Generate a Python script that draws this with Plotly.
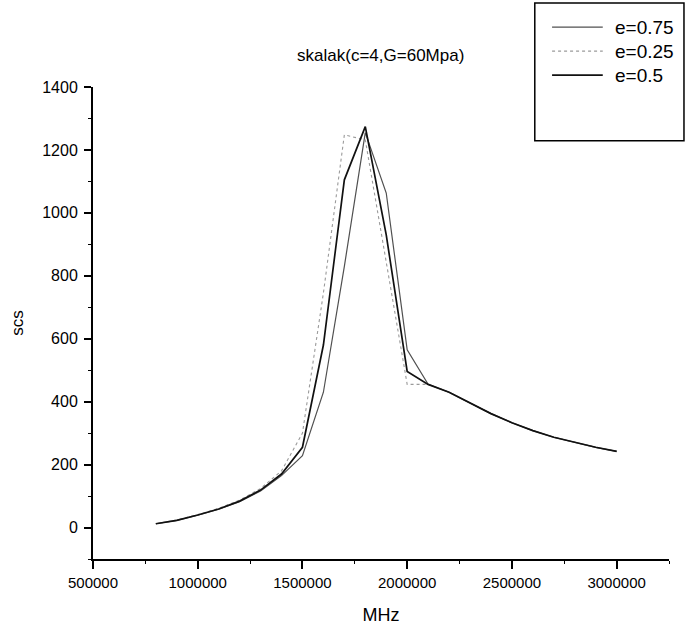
import plotly.graph_objects as go

# Frequency samples (x axis)
freq = [800000, 900000, 1000000, 1100000, 1200000, 1300000, 1400000, 1500000,
        1600000, 1700000, 1800000, 1900000, 2000000, 2100000, 2200000, 2300000,
        2400000, 2500000, 2600000, 2700000, 2800000, 2900000, 3000000]

# Scattering cross section for each eccentricity
scs_e075 = [12, 23, 39, 58, 82, 116, 165, 228, 430, 830, 1255, 1063, 565, 455,
            430, 396, 362, 333, 308, 287, 270, 255, 242]
scs_e025 = [12, 24, 41, 61, 87, 124, 180, 300, 745, 1248, 1232, 850, 455, 455,
            430, 396, 362, 333, 308, 287, 270, 255, 242]
scs_e05 = [12, 23, 40, 59, 84, 119, 170, 255, 580, 1105, 1274, 930, 496, 455,
           430, 396, 362, 333, 308, 287, 270, 255, 242]

series_names = ["e=0.75", "e=0.25", "e=0.5"]

x_ticks = [500000, 1000000, 1500000, 2000000, 2500000, 3000000]
y_ticks = [0, 200, 400, 600, 800, 1000, 1200, 1400]

line_styles = [
    dict(color="#505050", width=1.2),
    dict(color="#9a9a9a", width=1.1, dash="dot"),
    dict(color="#111111", width=1.7),
]

fig = go.Figure()
for name, ys, style in zip(series_names, [scs_e075, scs_e025, scs_e05], line_styles):
    fig.add_trace(go.Scatter(x=freq, y=ys, mode="lines", name=name,
                             line=style, showlegend=False))

font_family = "Liberation Sans, Arial, sans-serif"

# Legend box drawn in paper coordinates: frame, sample lines and labels
legend_rows = [1.127, 1.076, 1.025]
shapes = [dict(type="rect", xref="paper", yref="paper",
               x0=0.767, x1=1.026, y0=0.886, y1=1.178,
               line=dict(color="black", width=1.5), fillcolor="rgba(0,0,0,0)")]
annotations = []
for name, style, ry in zip(series_names, line_styles, legend_rows):
    shapes.append(dict(type="line", xref="paper", yref="paper",
                       x0=0.797, x1=0.885, y0=ry, y1=ry, line=style))
    annotations.append(dict(text=name, xref="paper", yref="paper",
                            x=0.903, y=ry, xanchor="left", yanchor="middle",
                            showarrow=False, font=dict(size=19)))

axis_common = dict(
    ticks="outside", tickwidth=1.5, tickcolor="black",
    showline=True, linecolor="black", linewidth=2,
    showgrid=False, zeroline=False, automargin=False,
)

fig.update_layout(
    width=686, height=629,
    margin=dict(l=93, r=17, t=87, b=70),
    paper_bgcolor="white", plot_bgcolor="white",
    font=dict(family=font_family, color="black", size=16),
    title=dict(text="skalak(c=4,G=60Mpa)", x=0.555, xanchor="center",
               y=0.912, yanchor="middle", font=dict(size=17)),
    showlegend=False,
    xaxis=dict(
        range=[500000, 3250000],
        title=dict(text="MHz", font=dict(size=18), standoff=18),
        tickmode="array", tickvals=x_ticks,
        ticktext=[str(v) for v in x_ticks],
        ticklen=8, tickfont=dict(size=15),
        minor=dict(ticks="outside", ticklen=3, tickwidth=1, tickcolor="black",
                   dtick=250000, tick0=500000),
        ticklabelstandoff=1,
        **axis_common,
    ),
    yaxis=dict(
        range=[-100, 1400],
        title=dict(text="scs", font=dict(size=17), standoff=14),
        tickmode="array", tickvals=y_ticks,
        ticktext=[str(v) for v in y_ticks],
        ticklen=7, tickfont=dict(size=16),
        minor=dict(ticks="outside", ticklen=3, tickwidth=1, tickcolor="black",
                   dtick=100, tick0=0),
        ticklabelstandoff=3,
        **axis_common,
    ),
    shapes=shapes,
    annotations=annotations,
)

fig.write_html("out.html")
